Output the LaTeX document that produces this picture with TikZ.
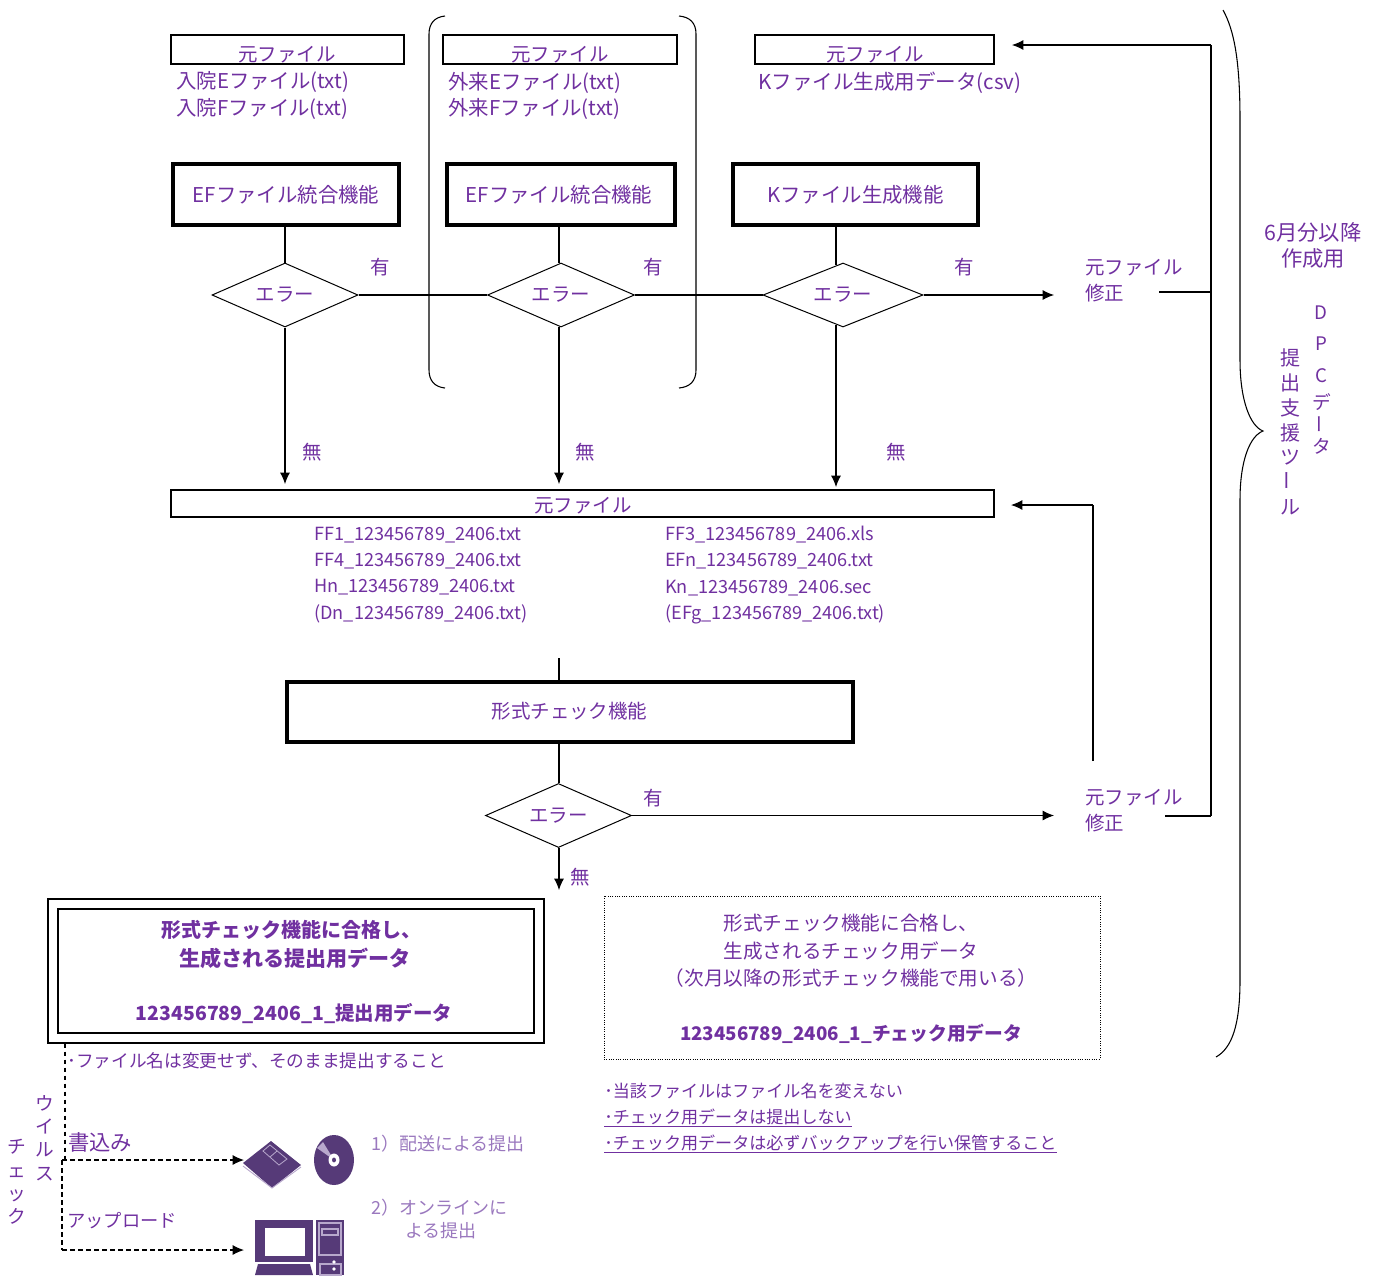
\documentclass[tikz,border=0pt]{standalone}
\usepackage{fontspec}
\usepackage{graphicx}
\setmainfont{Noto Sans CJK JP}
\usetikzlibrary{shapes.geometric,arrows.meta}
\definecolor{txt}{HTML}{7030A0}
\definecolor{muted}{HTML}{9A78BE}
\definecolor{icon}{HTML}{563A78}
\definecolor{iconl}{HTML}{B8A8CC}
\newcommand{\fa}{\fontsize{14.6}{19.6}\selectfont}
\newcommand{\ff}{\fontsize{15.3}{19.6}\selectfont}
\newcommand{\fb}{\fontsize{12.8}{19.8}\selectfont}
\newcommand{\fc}{\fontsize{13.5}{19.8}\selectfont}
\newcommand{\fd}{\fontsize{13.5}{17.2}\selectfont}
\newcommand{\vbar}{\rotatebox[origin=c]{90}{ー}}
\tikzset{
  x=0.75pt,y=-0.75pt,
  sz/.style 2 args={minimum width=#1*0.75pt,minimum height=#2*0.75pt},
  t/.style={text=txt,inner sep=0pt,font=\fa},
  tl/.style={t,anchor=west,align=left},
  tc/.style={t,align=center},
  thinbox/.style={draw,line width=1.6pt,fill=white,inner sep=0pt},
  funcbox/.style={draw,line width=3pt,inner sep=0pt,text=txt,font=\ff},
  dia/.style={draw,diamond,line width=0.75pt,inner sep=0pt,text=txt,font=\fa,fill=white},
  ln/.style={line width=0.8pt},
  arr/.style={ln,-{Latex[length=8.5pt,width=7.5pt]}},
  dsh/.style={line width=0.8pt,dash pattern=on 3.5pt off 2.5pt},
  stack/.style={t,align=center,font=\fontsize{14}{17.6}\selectfont},
  listf/.style={t,anchor=north west,align=left,font=\fontsize{13.6}{19.8}\selectfont},
}
\begin{document}
\begin{tikzpicture}
\useasboundingbox (0,0) rectangle (1380,1275);
% named points
\coordinate (v2) at (559,484);
\coordinate (v3) at (836,487);
\coordinate (v1) at (285,484);
\coordinate (busT) at (1211,45);
\coordinate (busA) at (1211,292);
\coordinate (busB) at (1211,816);
\coordinate (f1o) at (1159,292);
\coordinate (f2o) at (1165,816);
\coordinate (s3in) at (1012,45);
\coordinate (m1) at (1093,505);
\coordinate (m2) at (1093,761);
\coordinate (min) at (1011,505);
\coordinate (mo) at (559,658);
\coordinate (d4s) at (559,890);
% source boxes
\node[thinbox,sz={233}{29}] (s1) at (287.5,49.5) {};
\node[thinbox,sz={234}{29}] (s2) at (560,49.5) {};
\node[thinbox,sz={239}{29}] (s3) at (874.5,49.5) {};
\node[tc] (s1t) at (287,54.5) {元ファイル};
\node[tc] (s2t) at (560,54.5) {元ファイル};
\node[tc] (s3t) at (875,54.5) {元ファイル};
\node[tl,font=\ff] (s1l) at (176,95.5) {入院Eファイル(txt)\\入院Fファイル(txt)};
\node[tl,font=\ff] (s2l) at (448,95.5) {外来Eファイル(txt)\\外来Fファイル(txt)};
\node[tl,font=\fontsize{15.4}{19.6}\selectfont] (s3l) at (758,82.5) {Kファイル生成用データ(csv)};
% function boxes
\node[funcbox,sz={226}{61}] (ef1) at (286,194.5) {EFファイル統合機能};
\node[funcbox,sz={228}{61}] (ef2) at (561,194.5) {\hspace{-3pt}EFファイル統合機能};
\node[funcbox,sz={245}{61}] (kf) at (855.5,194.5) {Kファイル生成機能};
% diamonds
\node[dia,shape aspect=2.28,sz={146}{64}] (d1) at (285,295) {エラー};
\node[dia,shape aspect=2.28,sz={147}{64}] (d2) at (561,295) {エラー};
\node[dia,shape aspect=2.5,sz={160}{64}] (d3) at (843,295) {エラー};
% fix nodes
\node[tl,inner xsep=23.25pt] (fix1) at (1054,281) {元ファイル\\修正};
\node[tl,inner xsep=23.25pt] (fix2) at (1054,811) {元ファイル\\修正};
% merged box
\node[thinbox,sz={823}{27}] (mb) at (582.5,503.5) {};
\node[tc] (mbt) at (583,506) {元ファイル};
\node[listf] (l1) at (314,526.5) {FF1\_123456789\_2406.txt\\FF4\_123456789\_2406.txt\\Hn\_123456789\_2406.txt\\(Dn\_123456789\_2406.txt)};
\node[listf] (l2) at (665,525.5) {FF3\_123456789\_2406.xls\\EFn\_123456789\_2406.txt\\Kn\_123456789\_2406.sec\\(EFg\_123456789\_2406.txt)};
% check
\node[funcbox,font=\fa,sz={566}{60}] (chk) at (569.5,711.5) {形式チェック機能};
\node[dia,shape aspect=2.28,sz={146}{64}] (d4) at (558.5,815.5) {エラー};
% connectors
\draw[ln] (v1|-ef1.south) -- (d1.north);
\draw[ln] (v2|-ef2.south) -- (v2|-d2.92);
\draw[ln] (v3|-kf.south) -- (v3|-d3.103);
\draw[arr] (d1.south) -- (v1);
\draw[arr] (v2|-d2.268) -- (v2);
\draw[arr] (v3|-d3.257) -- (v3);
\draw[ln] (d1.east) -- (d2.west);
\draw[ln] (d2.east) -- (d3.west);
\draw[arr] (d3.east) -- (fix1.west|-d3.east);
\draw[arr] (d4.east) -- (fix2.west|-d4.east);
\draw[ln] (f1o) -- (busA);
\draw[ln] (f2o) -- (busB);
\draw[ln] (busB) -- (busT);
\draw[arr] (busT) -- (s3in);
\draw[ln] (m2) -- (m1);
\draw[arr] (m1) -- (min);
\draw[ln] (mo) -- (mo|-chk.north);
\draw[ln] (mo|-chk.south) -- (mo|-d4.north);
\draw[arr] (mo|-d4.south) -- (d4s);
% labels
\node[tc] (y1) at (380,267) {有};
\node[tc] (y2) at (653,267) {有};
\node[tc] (y3) at (964,267) {有};
\node[tc] (y4) at (653,798) {有};
\node[tc] (n1) at (312,452) {無};
\node[tc] (n2) at (585,452) {無};
\node[tc] (n3) at (896,452) {無};
\node[tc] (n4) at (580,877) {無};
% brackets and brace
\draw[ln] (445,16) .. controls (435,17) and (429,23) .. (429,34) -- (429,370) .. controls (429,381) and (435,387) .. (445,388);
\draw[ln] (679,16) .. controls (690,17) and (696,23) .. (696,34) -- (696,370) .. controls (696,381) and (690,387) .. (679,388);
\draw[ln] (1223,10) .. controls (1234,30) and (1240,60) .. (1240,120) -- (1240,360) .. controls (1240,400) and (1250,426) .. (1263,431) .. controls (1250,436) and (1240,460) .. (1240,500) -- (1240,980) .. controls (1240,1025) and (1232,1048) .. (1216,1057);
% right labels
\node[tc,font=\fontsize{16}{20}\selectfont] (r1) at (1313,245.5) {6月分以降\\作成用};
\node[stack] (r2) at (1321,313) {D};
\node[stack] (r3) at (1321,344) {P};
\node[stack] (r4) at (1321,376) {C};
\node[stack] (r5) at (1322,402) {デ};
\node[stack] (r6) at (1322,424) {\vbar};
\node[stack] (r7) at (1322,446) {タ};
\node[stack,font=\fontsize{15}{18.6}\selectfont] (r8) at (1290,432) {提\\出\\支\\援\\ツ\\\raisebox{3.5pt}{\vbar}\\ル};
% result boxes
\node[draw,line width=0.8pt,sz={496}{144}] (out) at (296,971) {};
\node[draw,line width=0.8pt,sz={476}{124}] (inn) at (296,971) {};
\node[tc,font=\bfseries\fontsize{15}{20}\selectfont] (a1) at (291.5,930) {形式チェック機能に合格し、};
\node[tc,font=\bfseries\fontsize{15.8}{20}\selectfont] (a1b) at (295,958) {生成される提出用データ};
\node[tc,font=\bfseries\fa] (a2) at (294,1013.5) {123456789\_2406\_1\_提出用データ};
\node[draw,densely dotted,line width=0.75pt,sz={496}{163}] (dot) at (852,977.5) {};
\node[tc,font=\fontsize{14.7}{20.7}\selectfont] (b1) at (851,951) {形式チェック機能に合格し、\\生成されるチェック用データ\\（次月以降の形式チェック機能で用いる）};
\node[tc,font=\bfseries\fontsize{14.06}{19}\selectfont] (b2) at (851,1033.5) {123456789\_2406\_1\_チェック用データ};
% lists
\node[t,anchor=west,font=\fb] (c1) at (604,1091) {･当該ファイルはファイル名を変えない};
\node[t,anchor=west,font=\fb] (c2) at (604,1118) {\underline{･チェック用データは提出しない}};
\node[t,anchor=west,font=\fb] (c3) at (604,1144) {\underline{･チェック用データは必ずバックアップを行い保管すること}};
\node[t,anchor=west,font=\fontsize{13.25}{19}\selectfont] (e1) at (67,1061) {･ファイル名は変更せず、そのまま提出すること};
\node[tl,font=\fontsize{16}{19}\selectfont] (w1) at (68,1142) {書込み};
\node[tl,font=\fontsize{13.7}{19}\selectfont] (w2) at (67,1221) {アップロード};
\node[stack] (vc1) at (45,1138) {ウ\\イ\\ル\\ス};
\node[stack] (vc2) at (17,1182) {チ\\ェ\\ッ\\ク};
\node[t,anchor=west,text=muted,font=\fc] (g1) at (371,1144) {1）配送による提出};
\node[t,anchor=north west,align=left,text=muted,font=\fd] (g2) at (371,1199) {2）オンラインに\\\hspace{25.5pt}よる提出};
% dashed
\coordinate (dv1) at (65,1160);
\coordinate (dv2) at (62,1250);
\coordinate (fl) at (244,1160);
\coordinate (pc) at (244,1250);
\draw[dsh] (dv1|-out.south) -- (dv1);
\draw[dsh] (dv1-|dv2) -- (dv2);
\draw[dsh,-{Latex[length=8.5pt,width=7.5pt]}] (dv1-|dv2) -- (fl);
\draw[dsh,-{Latex[length=8.5pt,width=7.5pt]}] (dv2) -- (pc);
% floppy
\fill[icon] (243,1163) -- (271,1141) -- (301,1165) -- (272,1188) -- cycle;
\draw[iconl,line width=0.7pt] (243,1166) -- (272,1188) -- (301,1167);
\draw[iconl,line width=0.6pt] (263,1151) -- (270,1145) -- (287,1159) -- (279,1165) -- cycle (270,1157) -- (277,1151);
% disc
\fill[icon] (334,1160) ellipse (20 and 25);
\fill[iconl] (334,1160) -- (317,1148) -- (323,1142) -- cycle;
\fill[white] (334,1160) ellipse (5.5 and 6.5);
\fill[icon] (334,1160) ellipse (2 and 2.4);
% computer
\fill[icon] (255,1220) rectangle (313,1262);
\fill[white] (265,1228) rectangle (305,1256);
\fill[icon] (258,1264) -- (310,1264) -- (313,1275) -- (255,1275) -- cycle;
\fill[icon] (316,1220) rectangle (344,1275);
\draw[iconl,line width=0.8pt] (319,1223) rectangle (341,1255) (322,1229) rectangle (338,1235) (320,1264) rectangle (341,1275);
\fill[white] (334,1269) circle (1.8) (334,1262) circle (1.8);
\end{tikzpicture}
\end{document}
